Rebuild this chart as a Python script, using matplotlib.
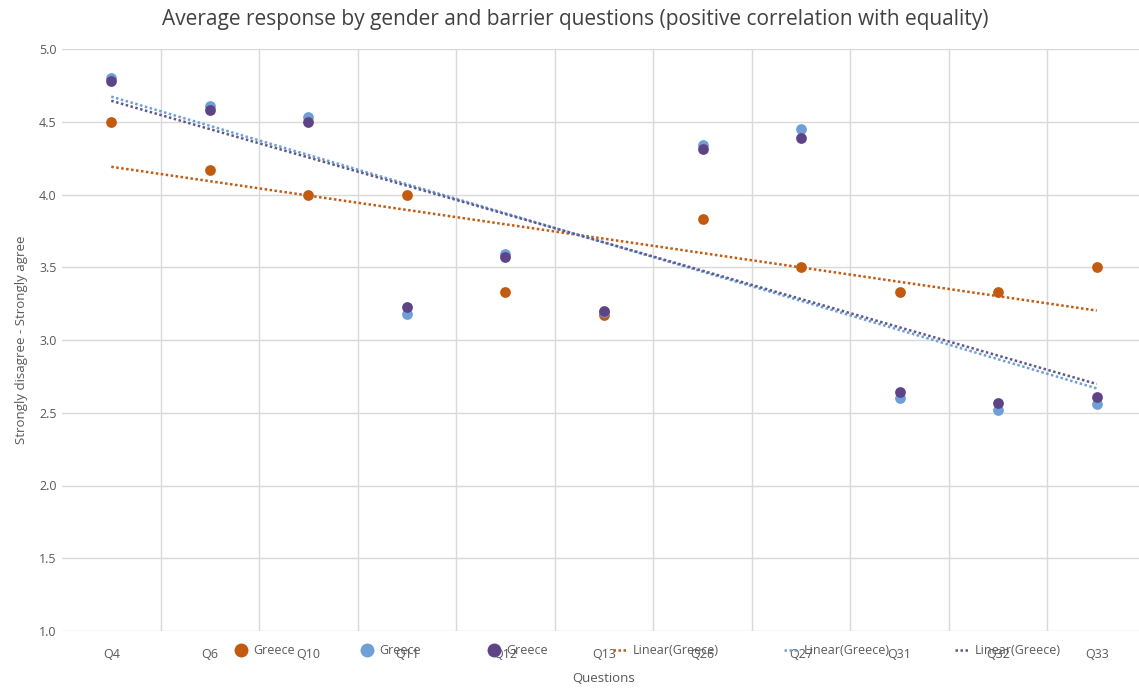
import numpy as np
import matplotlib
matplotlib.use("Agg")
import matplotlib.pyplot as plt
from matplotlib.lines import Line2D

plt.rcParams['font.family'] = ['Open Sans', 'DejaVu Sans']

questions = ["Q4", "Q6", "Q10", "Q11", "Q12", "Q13", "Q26", "Q27", "Q31", "Q32", "Q33"]
greece_orange = [4.50, 4.17, 4.00, 4.00, 3.33, 3.17, 3.83, 3.50, 3.33, 3.33, 3.50]
greece_blue = [4.80, 4.61, 4.53, 3.18, 3.59, 3.19, 4.34, 4.45, 2.60, 2.52, 2.56]
greece_purple = [4.78, 4.58, 4.50, 3.23, 3.57, 3.20, 4.31, 4.39, 2.64, 2.57, 2.61]

c_orange = "#C25A10"
c_blue = "#6F9FD8"
c_purple = "#5E4487"
c_trend_purple = "#5C5A8C"

fig = plt.figure(figsize=(11.39, 6.90), dpi=100)
ax = fig.add_axes([62 / 1139, 1 - 631 / 690, (1146 - 62) / 1139, (631 - 49) / 690])

x = np.arange(len(questions))
series = [(greece_orange, c_orange, c_orange),
          (greece_blue, c_blue, c_blue),
          (greece_purple, c_purple, c_trend_purple)]

for vals, col, tcol in series:
    ax.scatter(x, vals, s=60, color=col, zorder=3, linewidths=0)

# least-squares trend line for each series
for vals, col, tcol in series:
    k, b = np.polyfit(x, vals, 1)
    ax.plot(x, k * x + b, color=tcol, linestyle=(0, (1, 1)), linewidth=1.8, zorder=2)

ax.set_xlim(-0.5, len(questions) - 0.5)
ax.set_ylim(1.0, 5.0)
yt = np.arange(1.0, 5.01, 0.5)
ax.set_yticks(yt)
ax.set_yticklabels([f"{v:.1f}" for v in yt])
ax.set_xticks(x)
ax.set_xticklabels(questions)
ax.set_xticks(np.arange(0.5, len(questions) - 0.5, 1.0), minor=True)
ax.grid(False)
ax.grid(True, which='minor', axis='x', color='#d9d9d9', linewidth=1)
ax.grid(True, which='major', axis='y', color='#d9d9d9', linewidth=1)
ax.set_axisbelow(True)
for s in ax.spines.values():
    s.set_visible(False)
ax.tick_params(axis='both', which='both', length=0, labelsize=9, colors='#595959')
ax.tick_params(axis='x', pad=12)
ax.tick_params(axis='y', pad=4)

ax.set_xlabel("Questions", fontsize=9.5, color='#595959', labelpad=8)
ax.set_ylabel("Strongly disagree - Strongly agree", fontsize=9.5, color='#595959', labelpad=8)
fig.text(575 / 1139, 1 - 20 / 690, "Average response by gender and barrier questions (positive correlation with equality)",
         ha='center', va='center', fontsize=15, color='#404040')

handles = [
    Line2D([], [], marker='o', linestyle='none', color=c_orange, markersize=9, label="Greece"),
    Line2D([], [], marker='o', linestyle='none', color=c_blue, markersize=9, label="Greece"),
    Line2D([], [], marker='o', linestyle='none', color=c_purple, markersize=9, label="Greece"),
    Line2D([], [], color=c_orange, linestyle=(0, (1, 1)), linewidth=1.8, label="Linear(Greece)"),
    Line2D([], [], color=c_blue, linestyle=(0, (1, 1)), linewidth=1.8, label="Linear(Greece)"),
    Line2D([], [], color=c_trend_purple, linestyle=(0, (1, 1)), linewidth=1.8, label="Linear(Greece)"),
]
leg = fig.legend(handles=handles, loc='center', bbox_to_anchor=(647 / 1139, 1 - 651 / 690), ncol=6,
                 frameon=False, fontsize=9, handlelength=1.2, handletextpad=0.4, columnspacing=5.2,
                 labelcolor='#595959')

fig.savefig("out.png", dpi=100, facecolor='white')
